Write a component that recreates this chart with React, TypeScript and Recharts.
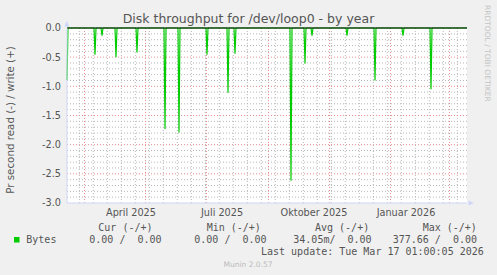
import React from 'react';
import { LineChart, Line, XAxis, YAxis, CartesianGrid, ReferenceLine } from 'recharts';

// Day offsets from the graph start (10 Feb 2025), one pixel per day, 400 days shown
const spikeDays = [0, 28, 35, 49, 70, 98, 112, 140, 161, 168, 224, 238, 245, 280, 308, 336, 364];
const spikeValues = [-0.89, -0.46, -0.13, -0.5, -0.42, -1.73, -1.79, -0.46, -1.11, -0.44, -2.62, -0.61, -0.13, -0.13, -0.9, -0.13, -1.05];
const totalDays = 400;

const yTicks = [-3, -2.5, -2, -1.5, -1, -0.5, 0];
const yMajorGrid = [-2.5, -2, -1.5, -1, -0.5];
const yMinorTicks = [
  -0.1, -0.2, -0.3, -0.4, -0.6, -0.7, -0.8, -0.9, -1.1, -1.2, -1.3, -1.4,
  -1.6, -1.7, -1.8, -1.9, -2.1, -2.2, -2.3, -2.4, -2.6, -2.7, -2.8, -2.9,
];
const monthLabelDays = [64, 155, 247, 339];
const monthLabels = ['April 2025', 'Juli 2025', 'Oktober 2025', 'Januar 2026'];
const majorGridDays = [17.5, 78.5, 139.5, 201.5, 262.5, 323.5, 382.5];
const minorGridDays = [
  12.3, 26.3, 40.3, 54.3, 68.3, 82.3, 96.3, 110.3, 124.3, 138.3, 152.3, 166.3, 180.3, 194.3,
  208.3, 222.3, 236.3, 250.3, 264.3, 278.3, 292.3, 306.3, 320.3, 334.3, 348.3, 362.3, 376.3, 390.3,
];

const legendHeaders = ['Cur (-/+)', 'Min (-/+)', 'Avg (-/+)', 'Max (-/+)'];
const legendHeaderX = [98.3, 206.7, 315, 422.7];
const legendValues = ['0.00 /  0.00', '0.00 /  0.00', '34.05m/  0.00', '377.66 /  0.00'];
const legendValueX = [89.3, 194.3, 293.3, 392.7];

const spikeMap = new Map<number, number>();
spikeDays.forEach((d, i) => spikeMap.set(d, spikeValues[i]));
const data = Array.from({ length: totalDays + 1 }, (_, d) => ({ day: d, read: spikeMap.get(d) ?? 0 }));

const AXIS = '#cfd6f8';
const FONT = '#555555';
const MINOR = '#b8b8b8';
const MAJOR = '#e89090';
const SANS = '"DejaVu Sans", sans-serif';
const MONO = '"DejaVu Sans Mono", monospace';

export default function App() {
  return (
    <div style={{ position: 'absolute', left: 0, top: 0, width: 497, height: 275, background: '#f0f0f0' }}>
      <LineChart width={497} height={275} data={data} margin={{ top: 28, right: 30, bottom: 52, left: 0 }}>
        <CartesianGrid fill="#ffffff" horizontal={false} vertical={false} />
        <XAxis
          type="number"
          dataKey="day"
          domain={[0, totalDays]}
          ticks={monthLabelDays}
          interval={0}
          tickFormatter={(v: number) => monthLabels[monthLabelDays.indexOf(v)] ?? ''}
          tickLine={false}
          tickSize={0}
          tickMargin={6}
          height={20}
          axisLine={{ stroke: AXIS }}
          tick={{ fill: FONT, fontSize: 9.7, fontFamily: SANS }}
        />
        <YAxis
          type="number"
          domain={[-3, 0]}
          ticks={yTicks}
          interval={0}
          tickFormatter={(v: number) => v.toFixed(1)}
          tickLine={false}
          tickSize={0}
          tickMargin={6}
          width={67}
          axisLine={{ stroke: AXIS }}
          tick={{ fill: FONT, fontSize: 9.7, fontFamily: SANS }}
        />
        {yMinorTicks.map((v, i) => (
          <ReferenceLine key={'hm' + i} y={v} stroke={MINOR} strokeWidth={1} strokeDasharray="1 2" />
        ))}
        {minorGridDays.map((d, i) => (
          <ReferenceLine key={'vm' + i} x={d} stroke={MINOR} strokeWidth={1} strokeDasharray="1 2" />
        ))}
        {yMajorGrid.map((v, i) => (
          <ReferenceLine key={'hM' + i} y={v} stroke={MAJOR} strokeWidth={1} strokeDasharray="1 2" />
        ))}
        {majorGridDays.map((d, i) => (
          <ReferenceLine key={'vM' + i} x={d} stroke={MAJOR} strokeWidth={1} strokeDasharray="1 2" />
        ))}
        <Line
          type="linear"
          dataKey="read"
          stroke="#00cc00"
          strokeWidth={1.2}
          dot={false}
          activeDot={false}
          isAnimationActive={false}
        />
        <ReferenceLine y={0} stroke="#000000" strokeWidth={1} />
      </LineChart>
      <svg
        width={497}
        height={275}
        style={{ position: 'absolute', left: 0, top: 0, pointerEvents: 'none' }}
      >
        <text x={248.5} y={23} textAnchor="middle" fontFamily={SANS} fontSize={12.5} fill={FONT}>
          Disk throughput for /dev/loop0 - by year
        </text>
        <text
          x={14}
          y={120}
          transform="rotate(-90 14 120)"
          textAnchor="middle"
          fontFamily={SANS}
          fontSize={10.3}
          fill={FONT}
        >
          Pr second read (-) / write (+)
        </text>
        <text
          x={484.5}
          y={5}
          transform="rotate(90 484.5 5)"
          fontFamily={SANS}
          fontSize={7.5}
          fill="#c4c4c4"
        >
          RRDTOOL / TOBI OETIKER
        </text>
        <polygon points="64.3,26.5 69.3,26.5 66.8,21" fill={AXIS} />
        <polygon points="468.5,200.5 468.5,205.5 474,203" fill={AXIS} />
        <rect x={14} y={237} width={5.5} height={5.5} fill="#00cc00" />
        <text x={26.3} y={243} fontFamily={MONO} fontSize={10} fill={FONT}>Bytes</text>
        {legendHeaders.map((h, i) => (
          <text key={h} x={legendHeaderX[i]} y={231.3} fontFamily={MONO} fontSize={10} fill={FONT} xmlSpace="preserve" style={{ whiteSpace: 'pre' }}>
            {h}
          </text>
        ))}
        {legendValues.map((v, i) => (
          <text key={i} x={legendValueX[i]} y={243} fontFamily={MONO} fontSize={10} fill={FONT} xmlSpace="preserve" style={{ whiteSpace: 'pre' }}>
            {v}
          </text>
        ))}
        <text x={261} y={255.3} fontFamily={MONO} fontSize={10} fill={FONT} xmlSpace="preserve" style={{ whiteSpace: 'pre' }}>
          Last update: Tue Mar 17 01:00:05 2026
        </text>
        <text x={248} y={267} textAnchor="middle" fontFamily={SANS} fontSize={7.5} fill="#bbbbbb">
          Munin 2.0.57
        </text>
      </svg>
    </div>
  );
}
